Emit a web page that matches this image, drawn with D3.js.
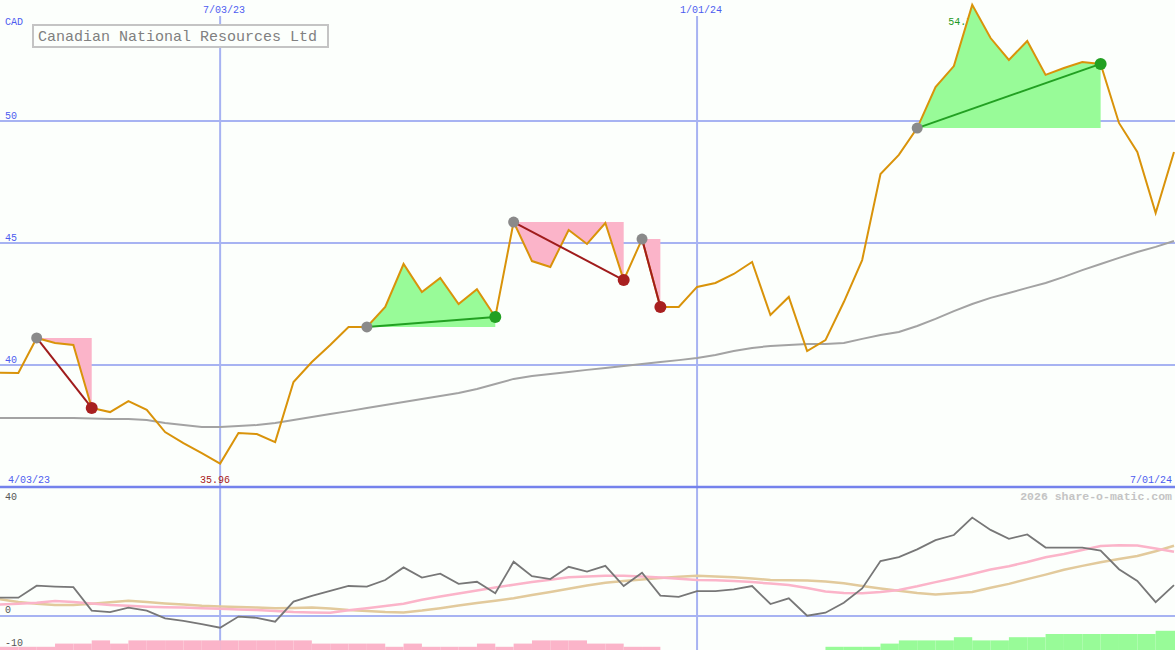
<!DOCTYPE html>
<html><head><meta charset="utf-8">
<script src="https://cdn.jsdelivr.net/npm/d3@7"></script>
<style>
html,body{margin:0;padding:0;background:#fcfffc;}
svg{display:block;}
text{font-family:"Liberation Mono","DejaVu Sans Mono",monospace;}
</style></head>
<body>
<svg id="chart" width="1175" height="650"></svg>
<script>
const dates = ["2023-04-10","2023-04-17","2023-04-24","2023-05-01","2023-05-08","2023-05-15","2023-05-22","2023-05-29","2023-06-05","2023-06-12","2023-06-19","2023-06-26",
"2023-07-03","2023-07-10","2023-07-17","2023-07-24","2023-07-31","2023-08-07","2023-08-14","2023-08-21","2023-08-28","2023-09-04","2023-09-11","2023-09-18","2023-09-25",
"2023-10-02","2023-10-09","2023-10-16","2023-10-23","2023-10-30","2023-11-06","2023-11-13","2023-11-20","2023-11-27","2023-12-04","2023-12-11","2023-12-18","2023-12-25",
"2024-01-01","2024-01-08","2024-01-15","2024-01-22","2024-01-29","2024-02-05","2024-02-12","2024-02-19","2024-02-26","2024-03-04","2024-03-11","2024-03-18","2024-03-25",
"2024-04-01","2024-04-08","2024-04-15","2024-04-22","2024-04-29","2024-05-06","2024-05-13","2024-05-20","2024-05-27","2024-06-03","2024-06-10","2024-06-17","2024-06-24","2024-07-01"];

const closePrice = [39.68,39.67,41.11,40.90,40.82,38.24,38.07,38.52,38.16,37.25,36.80,36.39,35.96,37.21,37.17,36.84,39.30,40.12,40.82,41.56,41.56,
42.38,44.14,42.99,43.57,42.50,43.11,41.97,45.86,44.26,44.02,45.53,44.96,45.82,43.48,45.16,42.38,42.38,43.20,43.36,43.73,44.22,
42.05,42.79,40.57,41.02,42.58,44.30,47.83,48.61,49.71,51.39,52.25,54.76,53.40,52.50,53.28,51.89,52.17,52.42,52.34,49.92,48.73,46.23,48.73];

const movingAvg = [37.83,37.83,37.83,37.83,37.83,37.81,37.79,37.79,37.75,37.62,37.54,37.46,37.46,37.50,37.54,37.62,37.75,37.87,37.99,38.11,38.24,
38.36,38.48,38.61,38.73,38.85,39.02,39.22,39.43,39.55,39.63,39.71,39.80,39.88,39.96,40.04,40.12,40.20,40.29,40.41,40.57,40.70,
40.78,40.82,40.86,40.86,40.90,41.07,41.23,41.35,41.60,41.89,42.21,42.50,42.75,42.95,43.16,43.36,43.61,43.89,44.14,44.39,44.63,44.84,45.08];

const oscillator = [6.1,6.1,10.1,9.8,9.6,1.8,1.3,2.8,1.8,-0.8,-1.6,-2.7,-3.9,-0.2,-0.6,-1.9,4.8,6.7,8.4,10.0,9.8,
12.0,16.2,12.8,14.1,10.7,11.4,7.6,18.1,13.3,12.3,16.4,14.8,16.7,10.0,14.4,6.8,6.4,8.3,8.3,8.9,10.0,
4.0,5.9,0.1,1.1,4.4,9.2,18.3,19.6,22.2,25.3,27.0,32.8,28.7,25.7,27.2,22.8,22.8,22.8,21.8,15.6,11.7,4.6,10.3];

const oscFast = [3.8,4.1,4.4,5.0,4.7,4.2,3.7,3.4,3.1,2.9,2.8,2.6,2.4,2.2,2.0,1.7,1.3,1.2,1.1,1.9,2.6,
3.3,4.1,5.4,6.5,7.5,8.5,9.5,10.4,11.3,12.1,12.9,13.2,13.4,13.4,13.2,12.8,12.4,12.0,11.9,11.7,11.3,
10.8,10.3,9.3,8.2,7.7,7.6,8.0,8.7,9.9,11.3,12.6,14.0,15.5,16.6,18.0,19.6,20.7,22.0,23.3,23.6,23.5,22.5,21.4];

const oscSlow = [5.6,4.7,4.1,3.7,3.7,4.1,4.6,5.1,4.7,4.2,3.8,3.4,3.2,3.0,2.8,2.6,2.7,2.8,2.5,2.0,1.7,
1.3,1.2,1.8,2.6,3.5,4.3,5.1,5.9,7.0,8.0,9.1,10.2,11.1,11.7,12.2,12.7,13.1,13.4,13.2,12.9,12.5,
12.0,11.9,11.8,11.5,10.9,10.0,9.2,8.4,7.7,7.2,7.6,8.0,9.4,10.7,12.3,13.8,15.4,16.7,17.9,19.0,20.0,21.6,23.4];

const histogram = [-1,-1,-1,-2,-2,-3,-2,-3,-3,-3,-3,-3,-3,-3,-3,-3,-3,
-2,-2,-2,-2,-1,-2,-1,-1,-1,-2,-1,-2,-3,-3,-3,-2,-2,-1,-1,
0,0,0,0,0,0,0,0,0,1,1,1,2,3,3,3,4,3,3,4,4,5,5,5,5,5,5,6,6];

const tradeEntry = [2, 20, 28, 35, 50];
const tradeExit  = [5, 27, 34, 36, 60];

const priceTicks = [40, 45, 50];
const lowerTicks = [40, 0, -10];
const gridDates = ["2023-07-03", "2024-01-01"];
const gridLabels = ["7/03/23", "1/01/24"];
const rangeLabels = ["4/03/23", "7/01/24"];
const title = "Canadian National Resources Ltd";
const currency = "CAD";
const watermark = "2026 share-o-matic.com";

const W = 1175, H = 650;
const parse = d3.timeParse("%Y-%m-%d");
const data = dates.map((d, i) => ({date: parse(d), close: closePrice[i], ma: movingAvg[i],
  osc: oscillator[i], fast: oscFast[i], slow: oscSlow[i], hist: histogram[i], i}));

const x = d3.scaleTime().domain([parse(dates[0]), parse(dates[dates.length-1])]).range([0, 1174]);
const y = d3.scaleLinear().domain([40, 50]).range([365, 121]);
const yLow = d3.scaleLinear().domain([-10, 40]).range([646, 496]);
const yHist = d3.scaleLinear().domain([0, 6]).range([650, 630.8]);

const svg = d3.select("#chart");
svg.append("rect").attr("width", W).attr("height", H).attr("fill", "#fcfffc");

const gridCol = "#a7b3f2", blue = "#4d5cf0";

// horizontal grid (main)
svg.selectAll(".hg").data(priceTicks).enter().append("line")
  .attr("x1", 0).attr("x2", W).attr("y1", d => y(d)).attr("y2", d => y(d))
  .attr("stroke", gridCol).attr("stroke-width", 2);
// lower zero line
svg.append("line").attr("x1", 0).attr("x2", W).attr("y1", yLow(0)).attr("y2", yLow(0))
  .attr("stroke", gridCol).attr("stroke-width", 2);
// vertical grid
svg.selectAll(".vg").data(gridDates).enter().append("line")
  .attr("x1", d => x(parse(d))).attr("x2", d => x(parse(d)))
  .attr("y1", 16).attr("y2", H).attr("stroke", gridCol).attr("stroke-width", 2);
// panel separator
svg.append("line").attr("x1", 0).attr("x2", W).attr("y1", 487).attr("y2", 487)
  .attr("stroke", "#7482ec").attr("stroke-width", 2.5);

// labels
svg.selectAll(".gl").data(gridDates).enter().append("text")
  .attr("x", d => x(parse(d)) + 4).attr("y", 13).attr("text-anchor", "middle")
  .attr("font-size", 10).attr("fill", blue).text((d, i) => gridLabels[i]);
svg.selectAll(".yl").data(priceTicks).enter().append("text")
  .attr("x", 5).attr("y", d => y(d) - 2).attr("font-size", 10).attr("fill", blue).text(d => d);
svg.append("text").attr("x", 5).attr("y", 25).attr("font-size", 10).attr("fill", blue).text(currency);
svg.append("text").attr("x", 8).attr("y", 483).attr("font-size", 10).attr("fill", blue).text(rangeLabels[0]);
svg.append("text").attr("x", 1172).attr("y", 483).attr("text-anchor", "end").attr("font-size", 10).attr("fill", blue).text(rangeLabels[1]);
svg.selectAll(".ll").data(lowerTicks).enter().append("text")
  .attr("x", 5).attr("y", d => d === 40 ? yLow(d) + 4 : (d === 0 ? yLow(d) - 3 : yLow(d)))
  .attr("font-size", 10).attr("fill", "#555").text(d => d);
svg.append("text").attr("x", 1172).attr("y", 500).attr("text-anchor", "end")
  .attr("font-size", 11.5).attr("font-weight", "bold").attr("fill", "#c4c4c4").text(watermark);

// low / high labels
const lowD = data.reduce((a, b) => b.close < a.close ? b : a);
const highD = data.reduce((a, b) => b.close > a.close ? b : a);
svg.append("text").attr("x", x(lowD.date) - 5).attr("y", 483).attr("text-anchor", "middle")
  .attr("font-size", 10).attr("fill", "#a82020").text(lowD.close.toFixed(2));
svg.append("text").attr("x", x(highD.date) - 9).attr("y", 25).attr("text-anchor", "middle")
  .attr("font-size", 10).attr("fill", "#229922").text(highD.close.toFixed(2));

// moving average
svg.append("path").datum(data)
  .attr("d", d3.line().x(d => x(d.date)).y(d => y(d.ma)))
  .attr("fill", "none").attr("stroke", "#a3a3a3").attr("stroke-width", 2);

// trade fills
tradeEntry.forEach((e, t) => {
  const ex = tradeExit[t];
  const seg = data.slice(e, ex + 1);
  const base = data[e].close;
  const win = data[ex].close > base;
  svg.append("path").datum(seg)
    .attr("d", d3.area().x(d => x(d.date)).y0(y(base)).y1(d => y(d.close)))
    .attr("fill", win ? "#98fb98" : "#fbb4c9");
});

// price line
svg.append("path").datum(data)
  .attr("d", d3.line().x(d => x(d.date)).y(d => y(d.close)))
  .attr("fill", "none").attr("stroke", "#d9930a").attr("stroke-width", 2).attr("stroke-linejoin", "miter");

// trade lines and dots
tradeEntry.forEach((e, t) => {
  const ex = tradeExit[t];
  const a = data[e], b = data[ex];
  const win = b.close > a.close;
  svg.append("line").attr("x1", x(a.date)).attr("y1", y(a.close)).attr("x2", x(b.date)).attr("y2", y(b.close))
    .attr("stroke", win ? "#22a022" : "#a01c1c").attr("stroke-width", 2);
  svg.append("circle").attr("cx", x(a.date)).attr("cy", y(a.close)).attr("r", 5.5).attr("fill", "#8a8a8a");
  svg.append("circle").attr("cx", x(b.date)).attr("cy", y(b.close)).attr("r", 6).attr("fill", win ? "#22a022" : "#a82020");
});

// histogram
data.forEach((d, i) => {
  if (d.hist === 0) return;
  const x0 = x(d.date);
  const x1 = i < data.length - 1 ? x(data[i + 1].date) : W;
  svg.append("rect").attr("x", x0).attr("width", x1 - x0)
    .attr("y", yHist(Math.abs(d.hist))).attr("height", H - yHist(Math.abs(d.hist)))
    .attr("fill", d.hist < 0 ? "#fbb4c9" : "#98fb98");
});

// lower panel lines
svg.append("path").datum(data)
  .attr("d", d3.line().x(d => x(d.date)).y(d => yLow(d.slow)))
  .attr("fill", "none").attr("stroke", "#e2ca9c").attr("stroke-width", 2.5);
svg.append("path").datum(data)
  .attr("d", d3.line().x(d => x(d.date)).y(d => yLow(d.fast)))
  .attr("fill", "none").attr("stroke", "#fbb4c9").attr("stroke-width", 2.5);
svg.append("path").datum(data)
  .attr("d", d3.line().x(d => x(d.date)).y(d => yLow(d.osc)))
  .attr("fill", "none").attr("stroke", "#777").attr("stroke-width", 1.8);

// title box
svg.append("rect").attr("x", 33).attr("y", 25).attr("width", 295).attr("height", 22)
  .attr("fill", "#fcfffc").attr("stroke", "#c4c4c4").attr("stroke-width", 2);
svg.append("text").attr("x", 38).attr("y", 41).attr("font-size", 15).attr("fill", "#808080").text(title);
</script>
</body></html>
